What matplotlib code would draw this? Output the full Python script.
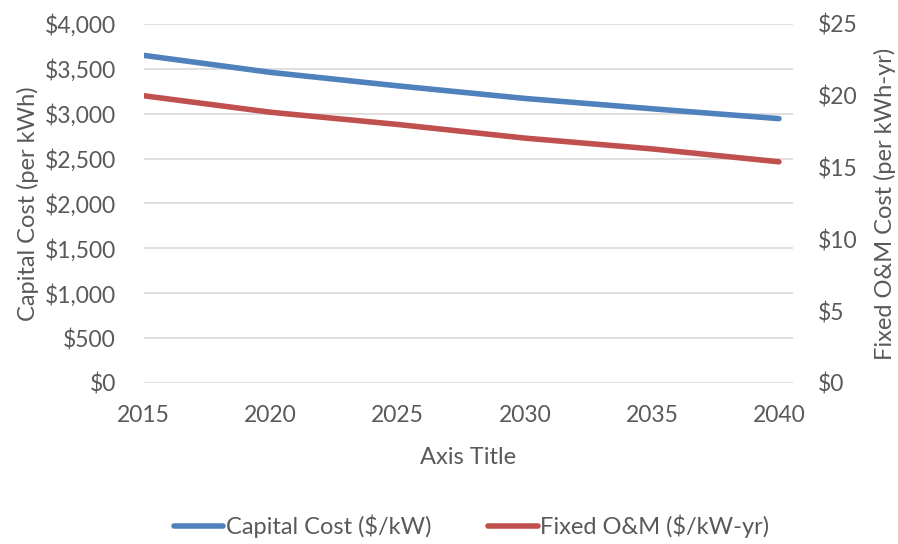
import matplotlib.pyplot as plt
from matplotlib.ticker import FuncFormatter

years = [2015, 2020, 2025, 2030, 2035, 2040]
capital_cost = [3650, 3460, 3310, 3170, 3055, 2945]
fixed_om = [20.0, 18.85, 18.0, 17.05, 16.3, 15.4]

left_ticks = list(range(0, 4001, 500))
right_ticks = list(range(0, 26, 5))

BLUE = "#4F81BD"
RED = "#C0504D"
TEXT = "#595959"
GRID = "#D9D9D9"

plt.rcParams["font.family"] = ["Lato", "DejaVu Sans"]

fig = plt.figure(figsize=(8.98, 5.44), dpi=100)
ax = fig.add_axes([0.160, 0.296, 0.723, 0.660])
ax2 = ax.twinx()

l1, = ax.plot(years, capital_cost, color=BLUE, lw=4, solid_capstyle="round",
              label="Capital Cost ($/kW)")
l2, = ax2.plot(years, fixed_om, color=RED, lw=4, solid_capstyle="round",
               label="Fixed O&M ($/kW-yr)")

ax.set_xlim(2015, 2040.55)
ax.set_ylim(0, 4000)
ax2.set_ylim(0, 25)
ax.set_xticks(years)
ax.set_yticks(left_ticks)
ax2.set_yticks(right_ticks)
ax.yaxis.set_major_formatter(FuncFormatter(lambda v, p: f"${v:,.0f}"))
ax2.yaxis.set_major_formatter(FuncFormatter(lambda v, p: f"${v:,.0f}"))

ax.grid(axis="y", color=GRID, lw=1.2)
ax.set_axisbelow(True)
for a in (ax, ax2):
    for s in a.spines.values():
        s.set_visible(False)
    a.tick_params(length=0, colors=TEXT, labelsize=16.5)
ax.tick_params(axis="y", pad=20)
ax.tick_params(axis="x", pad=16)
ax2.tick_params(axis="y", pad=18)

ax.set_xlabel("Axis Title", color=TEXT, fontsize=17, labelpad=15)
ax.set_ylabel("Capital Cost (per kWh)", color=TEXT, fontsize=17, labelpad=4)
ax2.set_ylabel("Fixed O&M Cost (per kWh-yr)", color=TEXT, fontsize=17, labelpad=12)

fig.legend(handles=[l1, l2], loc="center", bbox_to_anchor=(0.525, 0.032), ncol=2,
           frameon=False, fontsize=17, labelcolor=TEXT, handlelength=2.1,
           handletextpad=0.1, columnspacing=2.4)

fig.savefig("out.png", dpi=100)
